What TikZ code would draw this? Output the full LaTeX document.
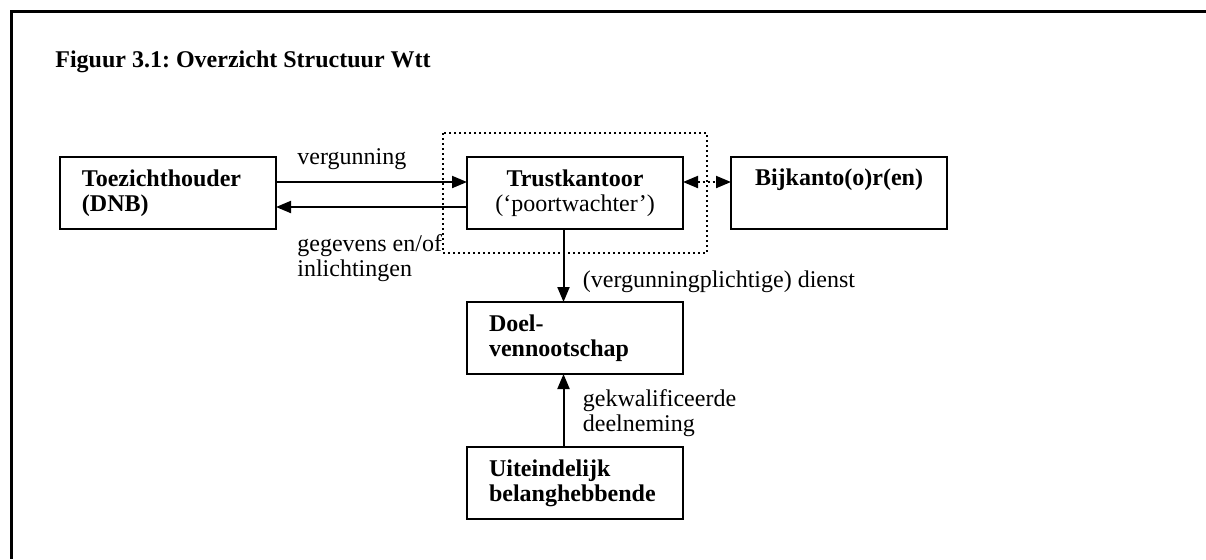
\documentclass[tikz,border=0pt]{standalone}
\usepackage{fontspec}
\setmainfont{Liberation Serif}
\usetikzlibrary{arrows.meta,positioning}
\frenchspacing

\begin{document}
\begin{tikzpicture}[x=0.5pt, y=-0.5pt, font=\fontsize{12}{12.5}\selectfont, node distance=95.5pt,
  >={Triangle[length=7.5pt,width=6pt]},
  box/.style={draw, line width=1pt, minimum width=108pt, minimum height=36pt, outer sep=0pt},
  lbox/.style={box, text width=86pt, inner xsep=11pt, align=left},
  cbox/.style={box, align=center},
  lbl/.style={anchor=base west, align=left, inner sep=0pt},
  pijl/.style={line width=1pt, ->},
  stip/.style={line width=1pt, dash pattern=on 1pt off 1.5pt}]
  \useasboundingbox (0,0) rectangle (1206,559);
  \draw[line width=1.5pt] (1206,11) -- (11,11) -- (11,559);
  \node[lbl, font=\fontsize{12}{12.5}\selectfont\bfseries] (titel) at (55,67) {Figuur 3.1: Overzicht Structuur Wtt};

  \node[lbox] (toez) at (168,193) {\textbf{Toezichthouder}\\\textbf{(DNB)}};
  \node[cbox, right=of toez] (trust) {\textbf{Trustkantoor}\\(‘poortwachter’)};
  \node[cbox, right=24pt of trust] (bijk) {\textbf{Bijkanto(o)r(en)}\\\strut};
  \node[lbox, below=36.5pt of trust] (doel) {\textbf{Doel-}\\\textbf{vennootschap}};
  \node[lbox, below=36.5pt of doel] (uit) {\textbf{Uiteindelijk}\\\textbf{belanghebbende}};

  % grens trustkantoor
  \draw[stip] ([shift={(-12pt,12pt)}]trust.north west) rectangle ([shift={(12pt,-12pt)}]trust.south east);

  \draw[pijl] ([yshift=5.5pt]toez.east) -- ([yshift=5.5pt]trust.west);
  \draw[pijl] ([yshift=-7pt]trust.west) -- ([yshift=-7pt]toez.east);
  \draw[pijl, <->, stip] ([yshift=5.5pt]trust.east) -- ([yshift=5.5pt]bijk.west);
  \coordinate (tdown) at ([xshift=-5.75pt]trust.south);
  \draw[pijl] (tdown) -- ([xshift=-5.75pt]doel.north);
  \draw[pijl] ([xshift=-5.75pt]uit.north) -- ([xshift=-5.75pt]doel.south);

  \node[lbl] (lverg) at ([xshift=10.5pt,yshift=14.5pt]toez.east) {vergunning};
  \node[lbl] (lgeg) at ([xshift=10.5pt,yshift=-41.5pt]toez.east) {gegevens en/of\\inlichtingen};
  \node[lbl] (ldienst) at ([xshift=9.5pt,yshift=-29pt]tdown) {(vergunningplichtige) dienst};
  \node[lbl] (ldeel) at ([xshift=3.75pt,yshift=-28.5pt]doel.south) {gekwalificeerde\\deelneming};
\end{tikzpicture}
\end{document}
